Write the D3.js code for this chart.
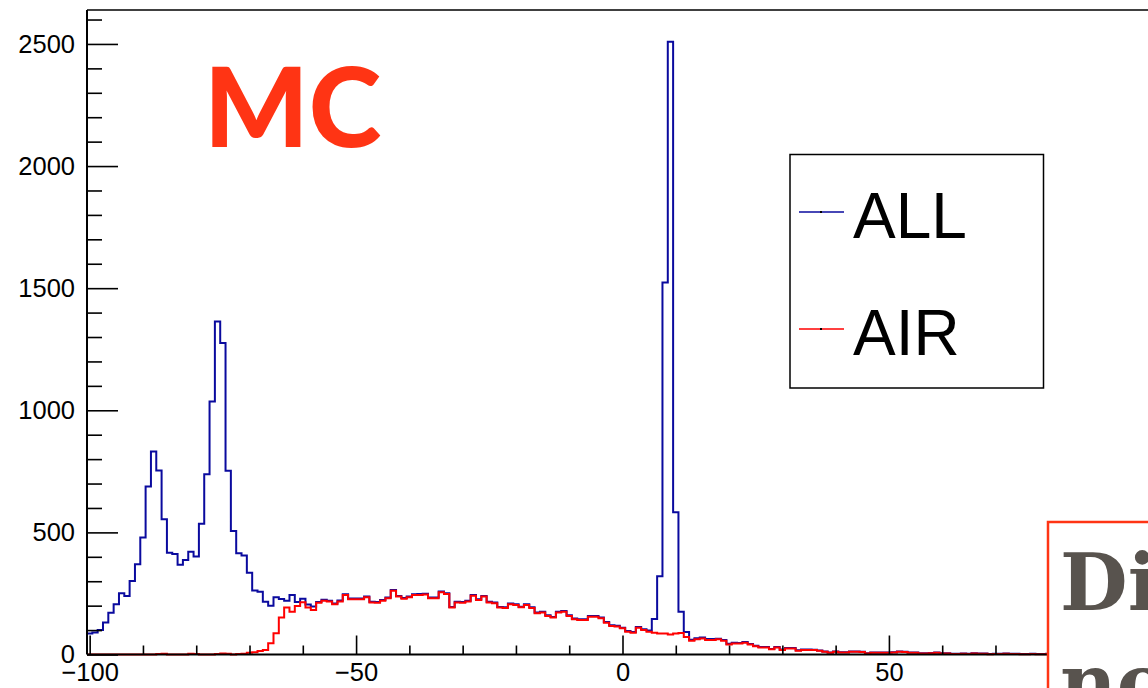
<!DOCTYPE html>
<html>
<head>
<meta charset="utf-8">
<script src="https://cdn.jsdelivr.net/npm/d3@7"></script>
<style>
  html, body { margin: 0; padding: 0; background: #fff; overflow: hidden; }
  svg { display: block; }
</style>
</head>
<body>
<svg id="chart" width="1148" height="688"></svg>
<script>
// Histogram bins: unit-width bins centred on the integers -100 ... 100
const binCenters = d3.range(-100, 101);

// Counts per bin, all events
const countsAll = [
  86, 90, 100, 131, 171, 206, 251, 240, 301, 370,       // -100 .. -91
  479, 688, 831, 753, 554, 417, 412, 367, 387, 421,     // -90 .. -81
  401, 535, 738, 1036, 1364, 1275, 752, 506, 415, 405,  // -80 .. -71
  335, 262, 257, 216, 200, 234, 227, 220, 244, 215,     // -70 .. -61
  228, 205, 197, 215, 224, 220, 209, 221, 247, 229,     // -60 .. -51
  229, 229, 237, 216, 215, 223, 233, 264, 240, 231,     // -50 .. -41
  237, 247, 248, 249, 233, 233, 258, 251, 195, 216,     // -40 .. -31
  215, 220, 244, 226, 240, 216, 213, 195, 193, 209,     // -30 .. -21
  206, 196, 206, 193, 172, 175, 161, 154, 175, 178,     // -20 .. -11
  161, 147, 144, 144, 158, 158, 151, 133, 120, 118,     // -10 .. -1
  110, 96, 92, 113, 103, 98, 145, 320, 1523, 2509,      // 0 .. 9
  582, 175, 92, 60, 67, 70, 63, 63, 65, 59,             // 10 .. 19
  44, 48, 47, 51, 43, 36, 31, 31, 23, 31,               // 20 .. 29
  20, 27, 27, 17, 20, 20, 19, 16, 12, 8,                // 30 .. 39
  12, 9, 9, 12, 12, 11, 5, 8, 8, 8,                     // 40 .. 49
  8, 9, 12, 11, 8, 8, 5, 5, 6, 8,                       // 50 .. 59
  5, 5, 3, 3, 4, 3, 5, 4, 4, 2,                         // 60 .. 69
  3, 3, 4, 3, 3, 2, 2, 3, 2, 2,                         // 70 .. 79
  3, 1, 2, 2, 1, 1, 1, 2, 0, 1,                         // 80 .. 89
  1, 1, 0, 0, 1, 0, 1, 1, 0, 0, 0                       // 90 .. 100
];

// Counts per bin, air only
const countsAir = [
  0, 0, 0, 0, 0, 0, 0, 0, 0, 0,                         // -100 .. -91
  0, 0, 0, 2, 3, 0, 0, 0, 0, 3,                         // -90 .. -81
  2, 0, 0, 0, 2, 4, 3, 0, 2, 3,                         // -80 .. -71
  7, 9, 14, 18, 46, 87, 151, 192, 175, 199,             // -70 .. -61
  214, 192, 182, 212, 220, 217, 206, 217, 244, 226,     // -60 .. -51
  226, 226, 234, 213, 212, 220, 230, 261, 237, 228,     // -50 .. -41
  234, 244, 244, 246, 230, 230, 255, 248, 192, 213,     // -40 .. -31
  212, 217, 241, 223, 237, 213, 210, 192, 190, 206,     // -30 .. -21
  203, 193, 203, 190, 169, 172, 158, 151, 172, 175,     // -20 .. -11
  158, 144, 141, 141, 155, 155, 148, 130, 117, 115,     // -10 .. -1
  107, 93, 89, 110, 100, 93, 89, 86, 86, 82,            // 0 .. 9
  86, 88, 72, 56, 62, 66, 59, 59, 62, 56,               // 10 .. 19
  41, 45, 45, 48, 41, 34, 29, 29, 21, 29,               // 20 .. 29
  18, 25, 25, 15, 18, 18, 18, 15, 11, 7,                // 30 .. 39
  11, 8, 8, 11, 11, 10, 4, 7, 7, 7,                     // 40 .. 49
  7, 8, 11, 10, 7, 7, 4, 4, 5, 7,                       // 50 .. 59
  4, 4, 2, 2, 3, 2, 4, 3, 3, 1,                         // 60 .. 69
  2, 2, 3, 2, 2, 1, 1, 2, 1, 1,                         // 70 .. 79
  2, 1, 1, 2, 1, 0, 1, 1, 0, 1,                         // 80 .. 89
  0, 1, 0, 0, 1, 0, 0, 1, 0, 0, 0                       // 90 .. 100
];

// Axis ticks
const xMajorTicks = [-100, -50, 0, 50, 100];
const xMinorTicks = [-90, -80, -70, -60, -40, -30, -20, -10, 10, 20, 30, 40, 60, 70, 80, 90];
const yMajorTicks = [0, 500, 1000, 1500, 2000, 2500];
const yMinorTicks = [100, 200, 300, 400, 600, 700, 800, 900, 1100, 1200, 1300, 1400,
                     1600, 1700, 1800, 1900, 2100, 2200, 2300, 2400, 2600];

const seriesNames = ["ALL", "AIR"];
const seriesColors = ["#0a0a9e", "#ff0000"];
const titleText = "MC";
const noteLines = ["Di", "no"];

const svg = d3.select("#chart");
const plot = { left: 87, right: 1158, top: 10, bottom: 654.5 };

const x = d3.scaleLinear().domain([-100.5, 100.5]).range([plot.left, plot.right]);
const y = d3.scaleLinear().domain([0, 2639]).range([plot.bottom, plot.top]);

const labelFont = "'Liberation Sans', Arial, Helvetica, sans-serif";
const fmt = d3.format("d");

// Histogram outline as a step path
function stepPath(counts) {
  const p = d3.path();
  binCenters.forEach((c, i) => {
    const x0 = x(c - 0.5), x1 = x(c + 0.5), yy = y(counts[i]);
    if (i === 0) p.moveTo(x0, yy); else p.lineTo(x0, yy);
    p.lineTo(x1, yy);
  });
  return p.toString();
}

// Frame top edge
svg.append("line")
  .attr("x1", plot.left).attr("x2", plot.right)
  .attr("y1", plot.top).attr("y2", plot.top)
  .attr("stroke", "#000").attr("stroke-width", 1.5);

// Histograms
svg.append("path").attr("d", stepPath(countsAll))
  .attr("fill", "none").attr("stroke", seriesColors[0]).attr("stroke-width", 2);
svg.append("path").attr("d", stepPath(countsAir))
  .attr("fill", "none").attr("stroke", seriesColors[1]).attr("stroke-width", 2);

// Y axis (ticks pointing into the frame)
const yAxisMajor = d3.axisLeft(y).tickValues(yMajorTicks).tickSize(-31).tickPadding(12).tickFormat(fmt);
const yAxisMinor = d3.axisLeft(y).tickValues(yMinorTicks).tickSize(-15).tickFormat("");
const gy = svg.append("g").attr("transform", `translate(${plot.left},0)`);
gy.call(yAxisMajor);
svg.append("g").attr("transform", `translate(${plot.left},0)`).call(yAxisMinor)
  .select(".domain").remove();
gy.select(".domain").attr("d", `M0,${plot.top}V${plot.bottom}`);

// X axis
const xAxisMajor = d3.axisBottom(x).tickValues(xMajorTicks).tickSize(-19).tickPadding(8).tickFormat(fmt);
const xAxisMinor = d3.axisBottom(x).tickValues(xMinorTicks).tickSize(-9).tickFormat("");
const gx = svg.append("g").attr("transform", `translate(0,${plot.bottom})`);
gx.call(xAxisMajor);
svg.append("g").attr("transform", `translate(0,${plot.bottom})`).call(xAxisMinor)
  .select(".domain").remove();
gx.select(".domain").attr("d", `M${plot.left},0H${plot.right}`);

svg.selectAll(".domain").attr("stroke", "#000").attr("stroke-width", 2);
svg.selectAll(".tick line").attr("stroke", "#000").attr("stroke-width", 1.6);
svg.selectAll(".tick text")
  .attr("font-family", labelFont).attr("font-size", 25.5).attr("fill", "#000");

// Title
svg.append("text")
  .attr("x", 204).attr("y", 147)
  .attr("font-family", "Lato, 'Open Sans', sans-serif")
  .attr("font-weight", 900)
  .attr("font-size", 110)
  .attr("fill", "#ff3414")
  .text(titleText);

// Legend
const legend = svg.append("g");
legend.append("rect")
  .attr("x", 790).attr("y", 154.5).attr("width", 253.5).attr("height", 233.5)
  .attr("fill", "#fff").attr("stroke", "#000").attr("stroke-width", 1.5);
const legendRows = [212, 329];
seriesNames.forEach((name, i) => {
  legend.append("line")
    .attr("x1", 799).attr("x2", 844)
    .attr("y1", legendRows[i]).attr("y2", legendRows[i])
    .attr("stroke", seriesColors[i]).attr("stroke-width", 1.6);
  legend.append("rect")
    .attr("x", 820).attr("y", legendRows[i] - 1).attr("width", 2).attr("height", 2)
    .attr("fill", "#000");
  legend.append("text")
    .attr("x", 853).attr("y", legendRows[i] + 25.5)
    .attr("font-family", labelFont).attr("font-size", 64).attr("fill", "#000")
    .text(name);
});

// Annotation box at lower right
const note = svg.append("g");
note.append("rect")
  .attr("x", 1048).attr("y", 522).attr("width", 140).attr("height", 220)
  .attr("fill", "#fff").attr("stroke", "#ff3414").attr("stroke-width", 2.5);
noteLines.forEach((t, i) => {
  note.append("text")
    .attr("x", 1060).attr("y", 610 + i * 100)
    .attr("font-family", "'DejaVu Serif', serif")
    .attr("font-weight", "bold")
    .attr("font-size", 78)
    .attr("fill", "#58534e")
    .text(t);
});
</script>
</body>
</html>
